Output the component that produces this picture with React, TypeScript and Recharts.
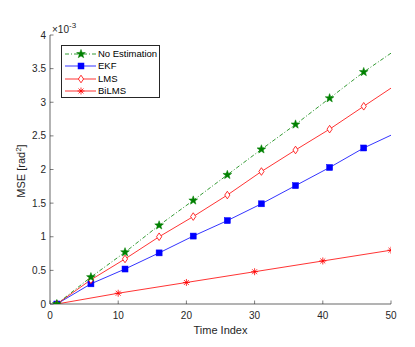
import React from 'react';
import { LineChart, Line, XAxis, YAxis } from 'recharts';

// values in units of 1e-3 rad^2
const timeIdx = [1, 6, 11, 16, 21, 26, 31, 36, 41, 46, 50];
const noEst = [0, 0.4, 0.77, 1.17, 1.54, 1.92, 2.3, 2.67, 3.06, 3.45, 3.73];
const lms = [0, 0.36, 0.67, 1.0, 1.3, 1.62, 1.97, 2.29, 2.6, 2.94, 3.21];
const ekf = [0, 0.3, 0.52, 0.76, 1.01, 1.24, 1.49, 1.76, 2.03, 2.32, 2.51];
const biIdx = [1, 10, 20, 30, 40, 50];
const bilms = [0, 0.16, 0.32, 0.48, 0.64, 0.8];
const xTicks = [0, 10, 20, 30, 40, 50];
const yTicks = [0, 0.5, 1, 1.5, 2, 2.5, 3, 3.5, 4];
const yTickLabels = ['0', '0.5', '1', '1.5', '2', '2.5', '3', '3.5', '4'];

const noEstData = timeIdx.map((t, i) => ({ t, v: noEst[i] }));
const lmsData = timeIdx.map((t, i) => ({ t, v: lms[i] }));
const ekfData = timeIdx.map((t, i) => ({ t, v: ekf[i] }));
const biData = biIdx.map((t, i) => ({ t, v: bilms[i] }));

const AX = '#262626';
const FONT = '"Liberation Sans", Arial, Helvetica, sans-serif';
const GREEN = '#008000';
const BLUE = '#0000ff';
const RED = '#ff0000';

const Star = ({ cx, cy }: any) => {
  const pts: string[] = [];
  for (let k = 0; k < 10; k++) {
    const r = k % 2 === 0 ? 4.6 : 1.9;
    const a = -Math.PI / 2 + (k * Math.PI) / 5;
    pts.push(`${cx + r * Math.cos(a)},${cy + r * Math.sin(a)}`);
  }
  return <polygon points={pts.join(' ')} fill={GREEN} stroke={GREEN} strokeWidth={0.5} />;
};
const Square = ({ cx, cy }: any) => (
  <rect x={cx - 3} y={cy - 3} width={6} height={6} fill={BLUE} stroke={BLUE} strokeWidth={0.5} />
);
const Diamond = ({ cx, cy }: any) => (
  <polygon
    points={`${cx},${cy - 3.8} ${cx + 2.6},${cy} ${cx},${cy + 3.8} ${cx - 2.6},${cy}`}
    fill="white"
    stroke={RED}
    strokeWidth={0.8}
  />
);
const Aster = ({ cx, cy }: any) => {
  const r = 3.5;
  const d = r * 0.707;
  return (
    <g stroke={RED} strokeWidth={0.8}>
      <line x1={cx} y1={cy - r} x2={cx} y2={cy + r} />
      <line x1={cx - r} y1={cy} x2={cx + r} y2={cy} />
      <line x1={cx - d} y1={cy - d} x2={cx + d} y2={cy + d} />
      <line x1={cx - d} y1={cy + d} x2={cx + d} y2={cy - d} />
    </g>
  );
};

const mkDot = (Shape: any, skipLast: boolean, n: number) => (props: any) => {
  const { index, cx, cy } = props;
  if (skipLast && index === n - 1) return <g key={`d${index}`} />;
  return (
    <g key={`d${index}`}>
      <Shape cx={cx} cy={cy} />
    </g>
  );
};

const BottomTick = (props: any) => {
  const { x, y, payload } = props;
  return (
    <g>
      <line x1={x} y1={y} x2={x} y2={y - 3.5} stroke={AX} strokeWidth={0.6} />
      <text x={x} y={y + 15} textAnchor="middle" fontSize={10} fill={AX} fontFamily={FONT}>
        {payload.value}
      </text>
    </g>
  );
};
const TopTick = (props: any) => {
  const { x, y } = props;
  return <line x1={x} y1={y} x2={x} y2={y + 3.5} stroke={AX} strokeWidth={0.6} />;
};
const LeftTick = (props: any) => {
  const { x, y, payload } = props;
  return (
    <g>
      <line x1={x} y1={y} x2={x + 3.5} y2={y} stroke={AX} strokeWidth={0.6} />
      <text x={x - 4} y={y + 3.5} textAnchor="end" fontSize={10} fill={AX} fontFamily={FONT}>
        {yTickLabels[yTicks.indexOf(payload.value)] ?? payload.value}
      </text>
    </g>
  );
};
const RightTick = (props: any) => {
  const { x, y } = props;
  return <line x1={x} y1={y} x2={x - 3.5} y2={y} stroke={AX} strokeWidth={0.6} />;
};

const legendItems = [
  { label: 'No Estimation', color: GREEN, dash: '4 2 1 2', Shape: Star },
  { label: 'EKF', color: BLUE, dash: undefined, Shape: Square },
  { label: 'LMS', color: RED, dash: undefined, Shape: Diamond },
  { label: 'BiLMS', color: RED, dash: undefined, Shape: Aster },
];

const LegendBox = () => (
  <div
    style={{
      position: 'absolute',
      left: 61,
      top: 45,
      width: 99,
      height: 53,
      border: '1px solid #262626',
      background: 'white',
      boxSizing: 'border-box',
    }}
  >
    {legendItems.map((it, i) => (
      <div
        key={it.label}
        style={{ position: 'absolute', left: 0, top: 2 + i * 12.3, height: 12, display: 'flex', alignItems: 'center' }}
      >
        <svg width={36} height={12} style={{ display: 'block' }}>
          <line x1={3} y1={6} x2={34} y2={6} stroke={it.color} strokeWidth={0.8} strokeDasharray={it.dash} />
          <it.Shape cx={19} cy={6} />
        </svg>
        <span style={{ fontFamily: FONT, fontSize: 9.5, color: '#000', whiteSpace: 'nowrap', lineHeight: '12px' }}>
          {it.label}
        </span>
      </div>
    ))}
  </div>
);

export default function App() {
  return (
    <div style={{ position: 'absolute', left: 0, top: 0, width: 415, height: 347, background: 'white' }}>
      <LineChart width={415} height={347} margin={{ top: 35, right: 24, bottom: 13, left: 10 }}>
        <XAxis
          xAxisId="b"
          type="number"
          dataKey="t"
          domain={[0, 50]}
          ticks={xTicks}
          allowDataOverflow
          height={30}
          tickSize={0}
          tickMargin={0}
          tickLine={false}
          axisLine={{ stroke: AX, strokeWidth: 0.7 }}
          tick={<BottomTick />}
          interval={0}
        />
        <XAxis
          xAxisId="top"
          orientation="top"
          type="number"
          dataKey="t"
          domain={[0, 50]}
          ticks={xTicks}
          allowDataOverflow
          height={0}
          tickSize={0}
          tickMargin={0}
          tickLine={false}
          axisLine={{ stroke: AX, strokeWidth: 0.7 }}
          tick={<TopTick />}
          interval={0}
        />
        <YAxis
          yAxisId="l"
          type="number"
          domain={[0, 4]}
          ticks={yTicks}
          allowDataOverflow
          width={40}
          tickSize={0}
          tickMargin={0}
          tickLine={false}
          axisLine={{ stroke: AX, strokeWidth: 0.7 }}
          tick={<LeftTick />}
          interval={0}
        />
        <YAxis
          yAxisId="r"
          orientation="right"
          type="number"
          domain={[0, 4]}
          ticks={yTicks}
          allowDataOverflow
          width={0}
          tickSize={0}
          tickMargin={0}
          tickLine={false}
          axisLine={{ stroke: AX, strokeWidth: 0.7 }}
          tick={<RightTick />}
          interval={0}
        />
        <Line
          xAxisId="b"
          yAxisId="l"
          data={biData}
          dataKey="v"
          stroke={RED}
          strokeWidth={0.8}
          dot={mkDot(Aster, false, biData.length)}
          isAnimationActive={false}
        />
        <Line
          xAxisId="b"
          yAxisId="l"
          data={ekfData}
          dataKey="v"
          stroke={BLUE}
          strokeWidth={0.8}
          dot={mkDot(Square, true, ekfData.length)}
          isAnimationActive={false}
        />
        <Line
          xAxisId="b"
          yAxisId="l"
          data={lmsData}
          dataKey="v"
          stroke={RED}
          strokeWidth={0.8}
          dot={mkDot(Diamond, true, lmsData.length)}
          isAnimationActive={false}
        />
        <Line
          xAxisId="b"
          yAxisId="l"
          data={noEstData}
          dataKey="v"
          stroke={GREEN}
          strokeWidth={0.8}
          strokeDasharray="4 2 1 2"
          dot={mkDot(Star, true, noEstData.length)}
          isAnimationActive={false}
        />
        <text x={52} y={33} fontSize={10} fill={AX} fontFamily={FONT}>
          ×10
          <tspan dy={-5} fontSize={8}>-3</tspan>
        </text>
        <text
          x={25}
          y={171}
          transform="rotate(-90 25 171)"
          textAnchor="middle"
          fontSize={11}
          fill={AX}
          fontFamily={FONT}
        >
          MSE [rad
          <tspan dy={-4} fontSize={8}>2</tspan>
          <tspan dy={4}>]</tspan>
        </text>
        <text x={220.5} y={334} textAnchor="middle" fontSize={11} fill={AX} fontFamily={FONT}>
          Time Index
        </text>
      </LineChart>
      <LegendBox />
    </div>
  );
}
